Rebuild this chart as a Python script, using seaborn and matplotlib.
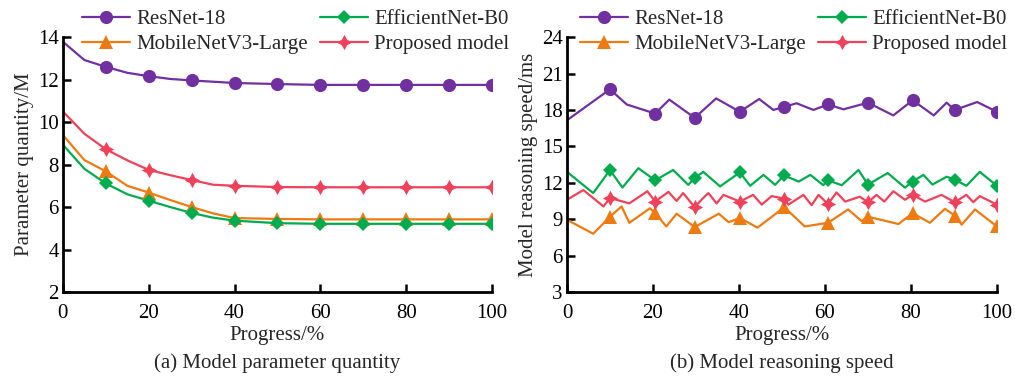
import matplotlib
matplotlib.use("Agg")
import matplotlib.pyplot as plt
from matplotlib.lines import Line2D
import seaborn as sns
import numpy as np

# ---- data ----
models = ["ResNet-18", "MobileNetV3-Large", "EfficientNet-B0", "Proposed model"]
colors = ["#7030a0", "#ee7a12", "#00ac4e", "#f0415a"]
markers = ["o", "^", "D", (4, 1, 0)]
marker_sizes = [9.5, 9.5, 7.5, 11]

# (a) parameter quantity
param_x = [0, 5, 10, 15, 20, 25, 30, 35, 40, 50, 60, 70, 80, 90, 100]
param_marker_x = [10, 20, 30, 40, 50, 60, 70, 80, 90, 100]
param_resnet = [13.78, 12.92, 12.6, 12.32, 12.16, 12.03, 11.96, 11.9, 11.84, 11.79, 11.75, 11.75, 11.75, 11.75, 11.75]
param_mobilenet = [9.39, 8.21, 7.68, 7.0, 6.68, 6.33, 6.0, 5.7, 5.48, 5.44, 5.42, 5.42, 5.42, 5.42, 5.42]
param_efficientnet = [8.93, 7.8, 7.11, 6.6, 6.3, 6.0, 5.72, 5.5, 5.36, 5.24, 5.21, 5.21, 5.21, 5.21, 5.21]
param_proposed = [10.5, 9.45, 8.72, 8.2, 7.75, 7.5, 7.27, 7.05, 7.0, 6.94, 6.93, 6.93, 6.93, 6.93, 6.93]

# (b) reasoning speed
speed_marker_x = [10, 20.5, 29.7, 40.2, 50.5, 60.7, 70, 80.4, 90.2, 100]
speed_resnet_x = [0, 10, 13.9, 20.5, 23.8, 29.7, 34.7, 40.2, 44.7, 48, 50.5, 53.4, 57.3, 60.7,
                  64.3, 70, 75.9, 80.4, 85.3, 88.3, 90.2, 95.4, 100]
speed_resnet = [17.15, 19.7, 18.45, 17.7, 18.85, 17.35, 18.95, 17.85, 18.9, 18.0, 18.25, 18.55, 18.0, 18.45,
                18.05, 18.6, 17.55, 18.8, 17.55, 18.6, 18.0, 18.65, 17.85]
speed_mobilenet_x = [0, 6.1, 10, 12.7, 14.5, 19.3, 20.5, 23.1, 25.5, 29.7, 35.3, 37.6, 40.2, 44.3, 49.5,
                     50.5, 55.3, 60.7, 65.4, 68.5, 70, 77.1, 80.4, 84.4, 87.9, 90.2, 91.8, 94.9, 100]
speed_mobilenet = [8.95, 7.8, 9.2, 10.05, 8.7, 9.9, 9.5, 8.4, 9.45, 8.35, 9.45, 8.75, 9.1, 8.3, 9.7,
                   10.0, 8.4, 8.7, 9.8, 8.85, 9.2, 8.6, 9.5, 8.7, 9.85, 9.3, 8.55, 9.8, 8.4]
speed_efficientnet_x = [0, 6.1, 10, 12.9, 16.6, 20.5, 24.7, 28.2, 29.7, 31.7, 35.6, 40.2, 42.6, 45.7, 48.4,
                        50.5, 53.9, 56.6, 59.6, 60.7, 63.9, 67.8, 70, 74.6, 78.6, 80.4, 82.9, 85, 88.3,
                        90.2, 92.9, 96, 100]
speed_efficientnet = [12.9, 11.15, 13.05, 11.6, 13.2, 12.2, 13.05, 11.83, 12.4, 12.9, 11.7, 12.85, 11.75, 12.65, 11.83,
                      12.6, 12.1, 12.65, 11.8, 12.2, 11.8, 13.05, 11.85, 12.8, 11.6, 12.1, 12.65, 11.85, 12.5,
                      12.25, 11.75, 12.9, 11.75]
speed_proposed_x = [0, 3.8, 8.5, 10, 14.5, 18.7, 20.5, 23.6, 25.5, 27, 29.7, 31.7, 32.9, 34.8, 36.4, 40.2,
                    43.3, 45.3, 47.6, 50.5, 51.5, 55, 56.9, 58.5, 60.7, 62.7, 64.7, 68.1, 70, 72, 73.8,
                    75.9, 78.6, 80.4, 83.3, 87.1, 90.2, 92.9, 94.5, 96, 100]
speed_proposed = [10.6, 11.4, 10.05, 10.75, 10.3, 11.3, 10.45, 11.25, 10.5, 11.15, 10.0, 10.75, 11.15, 10.3, 11.0, 10.45,
                  11.0, 10.2, 10.9, 10.7, 10.2, 11.0, 10.15, 11.0, 10.25, 11.2, 10.45, 10.85, 10.4, 11.0, 10.45,
                  11.3, 10.6, 11.0, 10.45, 11.0, 10.4, 11.0, 10.4, 10.9, 10.2]

sns.set_style("ticks")
plt.rcParams["font.family"] = ["Liberation Serif", "DejaVu Serif"]
FS = 15

fig = plt.figure(figsize=(10.15, 3.81), dpi=100)
ax_a = fig.add_axes([0.062, 0.2336, 0.4227, 0.669])
ax_b = fig.add_axes([0.5586, 0.2336, 0.4236, 0.669])


def draw_series(ax, xs, ys, marker_x, color, marker, ms):
    xs = np.asarray(xs, dtype=float)
    ys = np.asarray(ys, dtype=float)
    sns.lineplot(x=xs, y=ys, ax=ax, color=color, linewidth=1.6, sort=False,
                 estimator=None, zorder=2)
    mask = np.array([np.any(np.isclose(v, marker_x)) for v in xs])
    ax.plot(xs[mask], ys[mask], linestyle="none", marker=marker, markersize=ms,
            color=color, markeredgewidth=0, zorder=3)


param_series = [param_resnet, param_mobilenet, param_efficientnet, param_proposed]
for ys, c, m, ms in zip(param_series, colors, markers, marker_sizes):
    draw_series(ax_a, param_x, ys, param_marker_x, c, m, ms)

speed_series = [(speed_resnet_x, speed_resnet), (speed_mobilenet_x, speed_mobilenet),
                (speed_efficientnet_x, speed_efficientnet), (speed_proposed_x, speed_proposed)]
for (xs, ys), c, m, ms in zip(speed_series, colors, markers, marker_sizes):
    draw_series(ax_b, xs, ys, speed_marker_x, c, m, ms)

handles = [Line2D([], [], color=c, marker=m, markersize=ms, markeredgewidth=0, linewidth=1.6)
           for c, m, ms in zip(colors, markers, marker_sizes)]

for ax, ylim, yticks, ylab, cap, lx in [
    (ax_a, (2, 14), np.arange(2, 15, 2), "Parameter quantity/M", "(a) Model parameter quantity", 0.044),
    (ax_b, (3, 24), np.arange(3, 25, 3), "Model reasoning speed/ms", "(b) Model reasoning speed", 0.03),
]:
    ax.set_xlim(0, 100)
    ax.set_ylim(*ylim)
    ax.set_xticks(np.arange(0, 101, 20))
    ax.set_yticks(yticks)
    ax.set_xlabel("Progress/%", fontsize=FS, labelpad=2)
    ax.set_ylabel(ylab, fontsize=FS, labelpad=3)
    ax.tick_params(direction="in", length=6, width=1.8, labelsize=FS, colors="black")
    ax.tick_params(axis="x", pad=9)
    ax.tick_params(axis="y", pad=3)
    for side in ["top", "right"]:
        ax.spines[side].set_visible(False)
    for side in ["left", "bottom"]:
        ax.spines[side].set_linewidth(2)
        ax.spines[side].set_color("black")
    ax.grid(False)
    ax.legend(handles, models, ncol=2, loc="upper left", bbox_to_anchor=(lx, 1.108),
              frameon=False, fontsize=FS, handlelength=2.3, handletextpad=0.3,
              columnspacing=0.6, labelspacing=0.25, borderpad=0, borderaxespad=0)
    pos = ax.get_position()
    fig.text(pos.x0 + pos.width / 2, 0.046, cap, ha="center", va="center", fontsize=FS)

fig.savefig("out.png", dpi=100)
